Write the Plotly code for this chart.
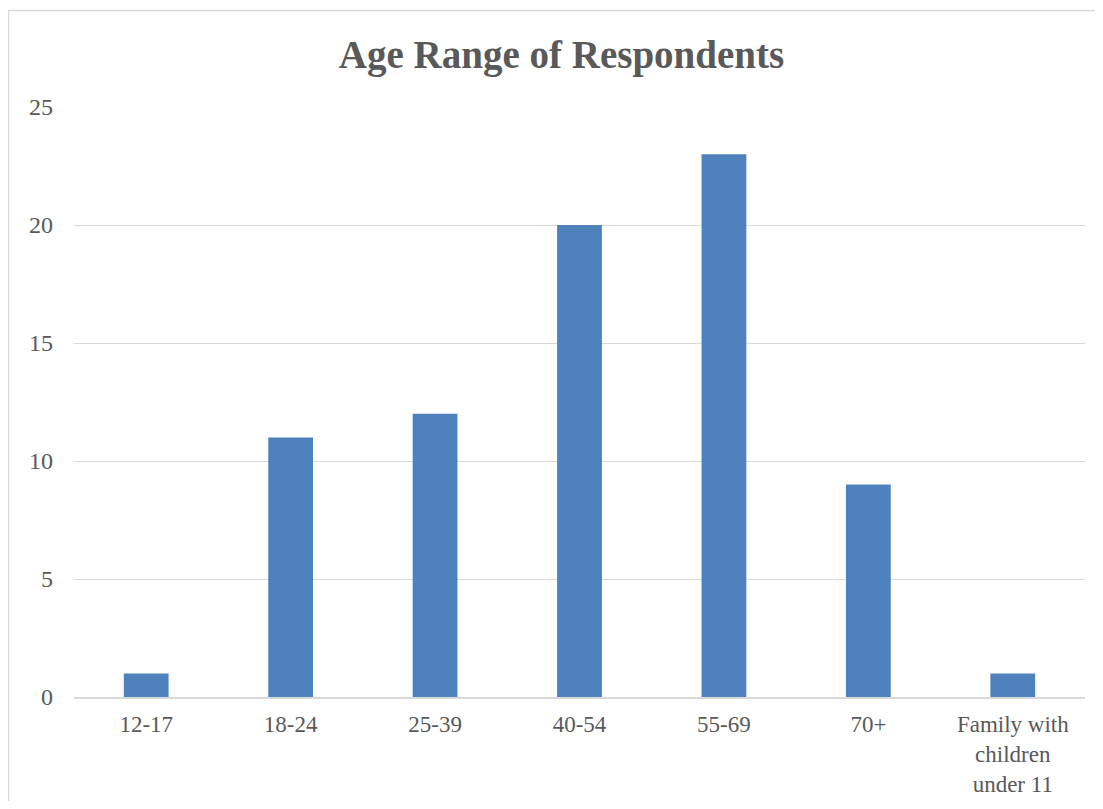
import plotly.graph_objects as go

categories = ["12-17", "18-24", "25-39", "40-54", "55-69", "70+", "Family with<br>children<br>under 11"]
values = [1, 11, 12, 20, 23, 9, 1]
y_ticks = [0, 5, 10, 15, 20, 25]

FONT = "Liberation Serif, DejaVu Serif, serif"
W, H = 1087, 793
L, R, T, B = 66, 10, 99, 104
pw, ph = W - L - R, H - T - B

fig = go.Figure(go.Bar(x=categories, y=values, marker=dict(color="#4F81BD", line=dict(width=0))))

def px_x(p):
    return (p - L) / pw

def px_y(p):
    return (H - B - p) / ph

fig.update_layout(
    width=W, height=H,
    margin=dict(l=L, r=R, t=T, b=B),
    paper_bgcolor="white", plot_bgcolor="white",
    bargap=0.69,
    showlegend=False,
    title=dict(text="<b>Age Range of Respondents</b>", x=553.5 / W, xref="container", xanchor="center",
               y=1 - 46 / H, yref="container", yanchor="middle",
               font=dict(family=FONT, size=39, color="#595959")),
    font=dict(family=FONT, size=24, color="#595959"),
    xaxis=dict(showgrid=False, showline=True, linecolor="#D9D9D9", linewidth=1.5, ticks="",
               ticklabelstandoff=6, automargin=False,
               tickfont=dict(family=FONT, size=23, color="#595959"), fixedrange=True),
    yaxis=dict(range=[0, 25], tickvals=y_ticks, showgrid=True, gridcolor="#D9D9D9", gridwidth=1,
               zeroline=False, showline=False, ticks="", ticklabelstandoff=20, automargin=False,
               tickfont=dict(family=FONT, size=24, color="#595959")),
    shapes=[dict(type="rect", xref="paper", yref="paper",
                 x0=px_x(0.5), x1=px_x(1120), y0=px_y(830), y1=px_y(2.5),
                 line=dict(color="#D9D9D9", width=1.5), fillcolor="rgba(0,0,0,0)", layer="below")],
)

fig.write_html("out.html")
